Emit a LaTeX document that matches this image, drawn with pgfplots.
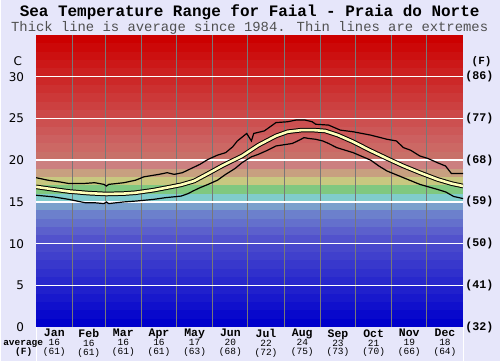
\documentclass[border=0pt]{standalone}
\usepackage{fontspec}
\setmainfont{Liberation Mono}
\newfontfamily\dejavu{DejaVu Sans}
\usepackage{pgfplots}
\pgfplotsset{compat=1.18}
\usepackage{pgfplotstable}

\definecolor{bgl}{RGB}{230,230,250}
\definecolor{gridv}{RGB}{120,120,120}
\definecolor{avgy}{RGB}{255,255,185}
\definecolor{subg}{RGB}{80,80,80}
\definecolor{band0}{RGB}{0,0,204}
\definecolor{band1}{RGB}{8,8,204}
\definecolor{band2}{RGB}{16,16,204}
\definecolor{band3}{RGB}{24,24,204}
\definecolor{band4}{RGB}{32,32,204}
\definecolor{band5}{RGB}{40,40,204}
\definecolor{band6}{RGB}{48,48,204}
\definecolor{band7}{RGB}{56,56,204}
\definecolor{band8}{RGB}{64,64,204}
\definecolor{band9}{RGB}{72,72,204}
\definecolor{band10}{RGB}{82,82,204}
\definecolor{band11}{RGB}{92,96,204}
\definecolor{band12}{RGB}{100,112,204}
\definecolor{band13}{RGB}{108,128,204}
\definecolor{band14}{RGB}{122,160,204}
\definecolor{band15}{RGB}{128,204,204}
\definecolor{band16}{RGB}{128,200,128}
\definecolor{band17}{RGB}{200,200,128}
\definecolor{band18}{RGB}{200,160,128}
\definecolor{band19}{RGB}{204,128,128}
\definecolor{band20}{RGB}{200,112,104}
\definecolor{band21}{RGB}{204,104,100}
\definecolor{band22}{RGB}{204,96,96}
\definecolor{band23}{RGB}{204,88,88}
\definecolor{band24}{RGB}{204,80,80}
\definecolor{band25}{RGB}{204,72,72}
\definecolor{band26}{RGB}{204,64,64}
\definecolor{band27}{RGB}{204,56,56}
\definecolor{band28}{RGB}{204,48,48}
\definecolor{band29}{RGB}{204,40,40}
\definecolor{band30}{RGB}{204,32,32}
\definecolor{band31}{RGB}{204,24,24}
\definecolor{band32}{RGB}{204,16,16}
\definecolor{band33}{RGB}{204,8,8}
\definecolor{band34}{RGB}{204,0,0}

\pgfplotstableread{
day T
0 16.8
15 16.5
28 16.25
45 16.05
60 15.95
75 16.0
85 16.1
100 16.4
115 16.8
124 17.05
135 17.5
147 18.4
160 19.4
176 20.5
190 21.8
205 22.9
215 23.4
227 23.6
237 23.6
247 23.5
258 23.0
271 22.2
285 21.2
300 20.2
314 19.3
328 18.5
343 17.7
355 17.2
365 16.9
}\avgdata

\pgfplotstableread{
day T
0 17.9
10 17.6
20 17.4
28 17.2
40 17.2
50 17.3
58 17.1
60 16.9
62 17.1
75 17.3
85 17.6
92 18.0
105 18.3
112 18.5
118 18.3
125 18.5
134 19.1
140 19.5
147 20.1
155 20.6
162 20.9
168 21.6
172 22.3
180 23.2
184 22.3
186 23.2
195 23.5
200 24.0
205 24.5
215 24.6
222 24.8
230 24.8
236 24.6
239 24.3
250 24.2
260 23.6
271 23.4
286 23.0
300 22.5
308 22.3
314 21.5
320 21.2
328 20.5
335 20.2
343 19.7
350 19.3
355 18.4
365 18.4
}\maxdata

\pgfplotstableread{
day T
0 15.8
15 15.6
28 15.3
35 15.1
42 14.9
50 14.9
58 14.8
60 15.0
62 14.8
75 15.0
85 15.1
100 15.3
110 15.5
124 15.7
130 16.0
134 16.3
140 16.7
147 17.1
155 17.6
162 18.3
170 19.0
176 19.7
184 20.4
190 20.7
198 21.2
205 21.7
219 22.0
225 22.4
229 22.7
233 22.6
239 22.5
245 22.3
250 22.0
257 21.5
271 20.9
286 20.0
293 19.3
300 18.7
314 17.9
328 17.1
343 16.5
350 16.2
357 15.65
365 15.4
}\mindata

\newcommand{\ml}[3]{{\bfseries\fontsize{11.5bp}{9bp}\selectfont #1}\\#2\\(#3)}

\begin{document}
\begin{tikzpicture}[x=1bp,y=1bp]
\fill[bgl] (0,0) rectangle (500,362);
\draw[white, line width=0.8bp] (35,0) -- (35,34) (463,0) -- (463,34);
\begin{axis}[
  at={(35bp,34bp)}, anchor=south west, scale only axis,
  width=428bp, height=293bp,
  xmin=0, xmax=365, ymin=0, ymax=35,
  axis line style={draw=none},
  major tick length=0pt,
  xtick={15.5,45,74.5,105,135.5,166,196.5,227.5,258,288.5,319,349.5},
  xticklabels={\ml{Jan}{16}{61},\ml{Feb}{16}{61},\ml{Mar}{16}{61},\ml{Apr}{16}{61},\ml{May}{17}{63},\ml{Jun}{20}{68},\ml{Jul}{22}{72},\ml{Aug}{24}{75},\ml{Sep}{23}{73},\ml{Oct}{21}{70},\ml{Nov}{19}{66},\ml{Dec}{18}{64}},
  xticklabel style={font=\fontsize{9.5bp}{9bp}\selectfont, align=center, anchor=north, inner sep=0pt, yshift=-2bp},
  ytick={0,5,10,15,20,25,30},
  yticklabels={0,5,10,15,20,25,30},
  yticklabel style={font=\dejavu\fontsize{12bp}{12bp}\selectfont, anchor=east, inner sep=0pt, xshift=-12bp},
]
\pgfplotsinvokeforeach{0,...,34}{\fill[band#1] (axis cs:0,#1) rectangle (axis cs:365,#1+1);}
\pgfplotsinvokeforeach{31,59,90,120,151,181,212,243,273,304,334}{\draw[gridv, line width=1bp] (axis cs:#1,0) -- (axis cs:#1,35);}
\pgfplotsinvokeforeach{5,10,...,30}{\draw[white, line width=1.5bp] (axis cs:0,#1) -- (axis cs:365,#1);}
\addplot[black, line width=1.2bp] table[x=day,y=T] {\maxdata};
\addplot[black, line width=1.2bp] table[x=day,y=T] {\mindata};
\addplot[black, line width=4.6bp] table[x=day,y=T] {\avgdata};
\addplot[avgy, line width=2.6bp] table[x=day,y=T] {\avgdata};
\end{axis}
\begin{axis}[
  at={(35bp,34bp)}, anchor=south west, scale only axis,
  width=428bp, height=293bp,
  xmin=0, xmax=365, ymin=0, ymax=35,
  axis line style={draw=none},
  major tick length=0pt,
  xtick=\empty,
  ytick={0,5,10,15,20,25,30},
  yticklabels={(32),(41),(50),(59),(68),(77),(86)},
  yticklabel pos=right,
  yticklabel style={font=\bfseries\fontsize{11.7bp}{12bp}\selectfont, anchor=west, inner sep=0pt, xshift=2bp},
]
\end{axis}
\node[font=\bfseries\fontsize{16bp}{16bp}\selectfont] at (249,350) {Sea Temperature Range for Faial - Praia do Norte};
\node[font=\fontsize{13.9bp}{14bp}\selectfont, text=subg] at (249,334) {Thick line is average since 1984. Thin lines are extremes};
\node[font=\dejavu\fontsize{12bp}{12bp}\selectfont] at (16.5,301) {C};
\node[font=\bfseries\fontsize{11bp}{11bp}\selectfont] at (481.5,300) {(F)};
\node[font=\bfseries\fontsize{9.5bp}{9bp}\selectfont, anchor=base] at (22,16) {average};
\node[font=\bfseries\fontsize{9.5bp}{9bp}\selectfont, anchor=base] at (22.5,7) {(F)};
\end{tikzpicture}
\end{document}
